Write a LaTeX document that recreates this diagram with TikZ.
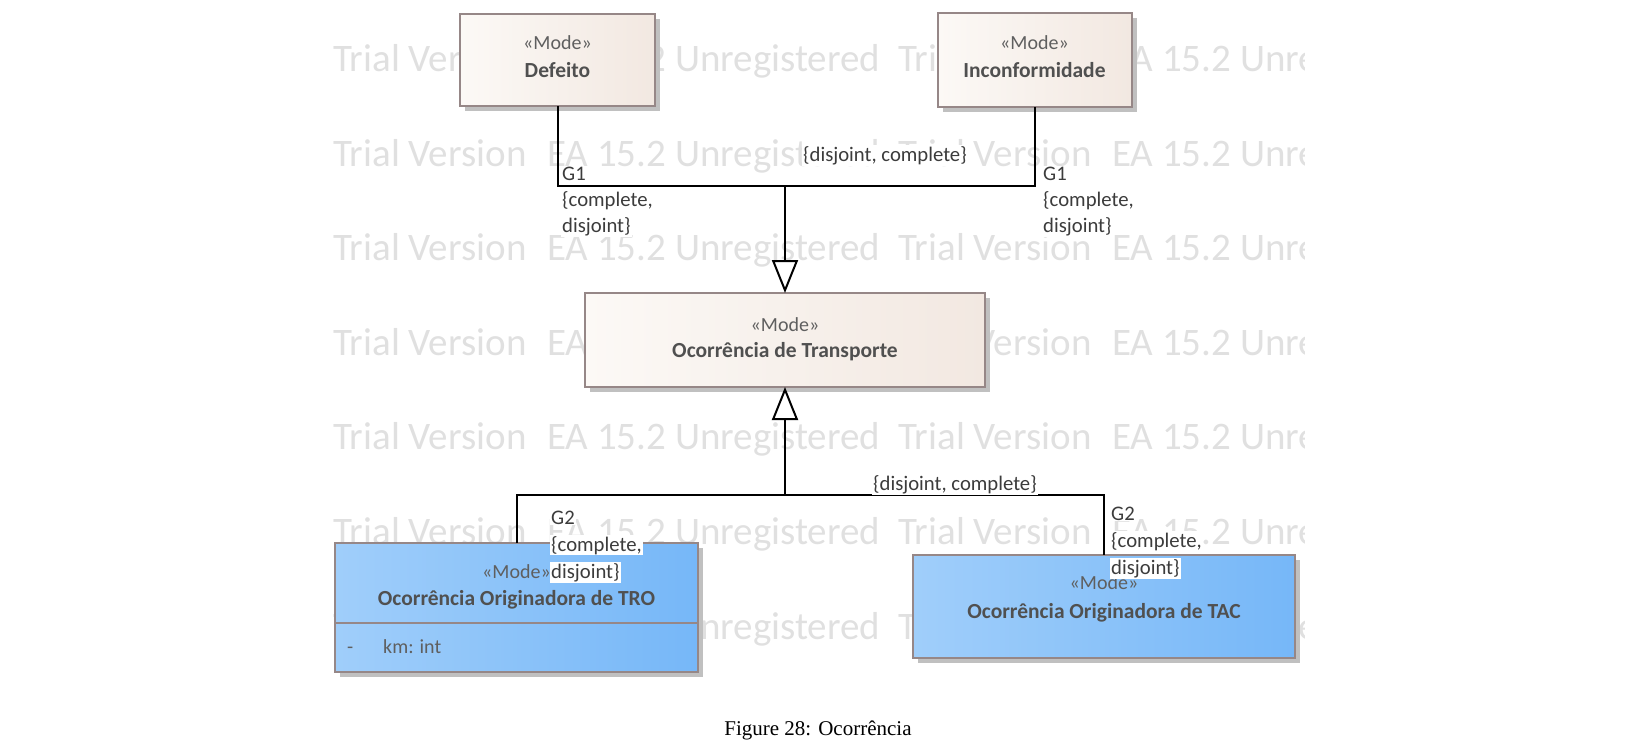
\documentclass[tikz,border=0pt]{standalone}
\usepackage{fontspec}
\setmainfont{Carlito}
\newfontfamily\capfont{Liberation Serif}
\usetikzlibrary{arrows.meta,shadows}
\definecolor{wmgray}{RGB}{224,224,224}
\definecolor{bdr}{RGB}{150,135,135}
\definecolor{begL}{RGB}{252,249,246}
\definecolor{begR}{RGB}{242,232,225}
\definecolor{bluL}{RGB}{160,206,250}
\definecolor{bluR}{RGB}{118,183,248}
\definecolor{stc}{RGB}{95,95,95}
\definecolor{ttc}{RGB}{80,80,80}
\definecolor{lbc}{RGB}{60,60,60}
\definecolor{shc}{RGB}{192,192,192}
\tikzset{
 umlbox/.style={draw=bdr, line width=2pt, inner sep=0pt, outer sep=0pt,
   drop shadow={shadow xshift=5pt, shadow yshift=-5pt, fill=shc, opacity=1}},
 beigebox/.style={umlbox, left color=begL, right color=begR},
 bluebox/.style={umlbox, left color=bluL, right color=bluR},
 ster/.style={font=\fontsize{20}{24}\selectfont, text=stc, anchor=base, inner sep=0pt},
 ttl/.style={font=\bfseries\fontsize{21.5}{25}\selectfont, text=ttc, anchor=base, inner sep=0pt},
 lbl/.style={font=\fontsize{20.7}{24}\selectfont, text=lbc, fill=white, inner sep=1pt, anchor=base west},
 clbl/.style={lbl, anchor=base},
 conn/.style={line width=2pt, draw=black},
 gen/.style={conn, -{Triangle[length=33pt, width=26pt, fill=white]}},
 wm/.style={font=\fontsize{39}{44}\selectfont, text=wmgray, anchor=base west, inner sep=0pt}
}
\begin{document}
\begin{tikzpicture}[x=1pt,y=-1pt]
\useasboundingbox (0,0) rectangle (1652,752);
% watermark
\begin{scope}
\clip (320,0) rectangle (1304,690);
\foreach \r in {0,...,6}{
  \node[wm] (wmz\r) at (-11,{71.5+94.6*\r}) {EA 15.2 Unregistered};
  \node[wm] (wma\r) at (333,{71.5+94.6*\r}) {Trial Version};
  \node[wm] (wmb\r) at (547,{71.5+94.6*\r}) {EA 15.2 Unregistered};
  \node[wm] (wmc\r) at (898,{71.5+94.6*\r}) {Trial Version};
  \node[wm] (wmd\r) at (1112,{71.5+94.6*\r}) {EA 15.2 Unregistered};
}
\end{scope}
% boxes
\node[beigebox, minimum width=195pt, minimum height=92pt] (def) at (557.5,60) {};
\node[beigebox, minimum width=194pt, minimum height=93pt] (inc) at (1034.5,60) {};
\node[beigebox, minimum width=400pt, minimum height=94pt] (ot) at (785,340) {};
\node[bluebox, minimum width=363pt, minimum height=129pt] (tro) at (516.5,607.5) {};
\node[bluebox, minimum width=382pt, minimum height=103pt] (tac) at (1104,606.5) {};
\draw[draw=bdr, line width=2pt] (tro.west |- 0,623) coordinate (trodl) -- (tro.east |- 0,623) coordinate (trodr);
% connectors
\coordinate (j1) at (785,186);
\coordinate (j2) at (785,495);
\draw[conn] (def.south) |- (j1) -| (inc.south);
\draw[gen] (j1) -- (ot.north);
\draw[conn] (tro.north) |- (j2) -| (tac.north);
\draw[gen] (j2) -- (ot.south);
% box texts
\node[ster] (defs) at (557.5,49.5) {«Mode»};
\node[ttl] (deft) at (557.5,77.5) {Defeito};
\node[ster] (incs) at (1034.5,49.5) {«Mode»};
\node[ttl] (inct) at (1034.5,77.5) {Inconformidade};
\node[ster] (ots) at (785,331) {«Mode»};
\node[ttl] (ott) at (785,357) {Ocorrência de Transporte};
\node[ster] (tros) at (516.5,578) {«Mode»};
\node[ttl] (trot) at (516.5,605) {Ocorrência Originadora de TRO};
\node[ster, anchor=base west] (troa) at (347,653) {-};
\node[ster, anchor=base west] (trob) at (383,653) {km: int};
\node[ster] (tacs) at (1104,589) {«Mode»};
\node[ttl] (tact) at (1104,618) {Ocorrência Originadora de TAC};
% labels
\node[clbl] (c1) at (885,161) {\{disjoint, complete\}};
\node[lbl] (g1a) at (561,180) {G1};
\node[lbl] (g1b) at (561,206) {\{complete,};
\node[lbl] (g1c) at (561,232) {disjoint\}};
\node[lbl] (g1d) at (1042,180) {G1};
\node[lbl] (g1e) at (1042,206) {\{complete,};
\node[lbl] (g1f) at (1042,232) {disjoint\}};
\node[clbl] (c2) at (955,490) {\{disjoint, complete\}};
\node[lbl] (g2a) at (550,524) {G2};
\node[lbl] (g2b) at (550,551) {\{complete,};
\node[lbl] (g2c) at (550,578) {disjoint\}};
\node[lbl] (g2d) at (1110,520) {G2};
\node[lbl] (g2e) at (1110,547) {\{complete,};
\node[lbl] (g2f) at (1110,574) {disjoint\}};
% caption
\node[font=\capfont\fontsize{21}{25}\selectfont, anchor=base, inner sep=0pt] (cap) at (818,735) {Figure 28: Ocorrência};
\end{tikzpicture}
\end{document}
